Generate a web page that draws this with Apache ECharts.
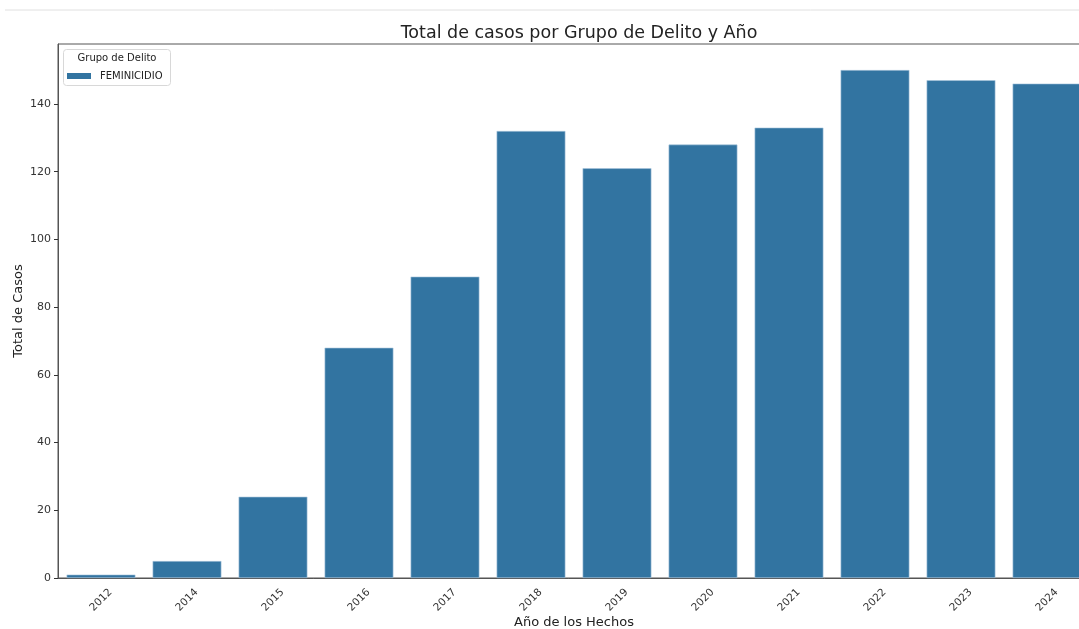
<!DOCTYPE html>
<html><head><meta charset="utf-8">
<script src="https://cdn.jsdelivr.net/npm/echarts@6/dist/echarts.min.js"></script>
<style>html,body{margin:0;padding:0;background:#fff;overflow:hidden}#c{width:1079px;height:629px}</style>
</head><body><div id="c"></div>
<script>
const categories = ['2012','2014','2015','2016','2017','2018','2019','2020','2021','2022','2023','2024'];
const feminicidio = [1,5,24,68,89,132,121,128,133,150,147,146];
const yTicks = {min:0, max:157.7, interval:20};
const seriesName = 'FEMINICIDIO';
const legendTitle = 'Grupo de Delito';

const chart = echarts.init(document.getElementById('c'), null, {renderer:'canvas'});
const font = 'DejaVu Sans';
chart.setOption({
  animation:false,
  textStyle:{fontFamily:font},
  title:{text:'Total de casos por Grupo de Delito y Año', left:574, top:19, textAlign:'center',
    textStyle:{fontFamily:font, fontSize:17.5, fontWeight:'normal', color:'#222'}},
  grid:{left:58, top:44, width:1032, height:534, outerBoundsMode:'none', containLabel:false,
    show:true, borderColor:'#555', borderWidth:1, backgroundColor:'transparent'},
  legend:{left:62, top:66, itemWidth:24, itemHeight:6, icon:'rect', data:[seriesName], z:10,
    itemStyle:{borderWidth:0},
    textStyle:{fontFamily:font, fontSize:10, color:'#222', padding:[0,0,0,4]}},
  graphic:[
    {type:'line', shape:{x1:5,y1:10,x2:1079,y2:10}, style:{stroke:'#e0e0e0', lineWidth:1}},
    {type:'rect', shape:{x:63.5,y:49.5,width:107,height:36,r:3}, style:{fill:'#fff', stroke:'#d8d8d8', lineWidth:1}, z:1},
    {type:'text', x:117, y:53, style:{text:legendTitle, textAlign:'center', font:'10px DejaVu Sans', fill:'#222'}, z:2}
  ],
  xAxis:{type:'category', data:categories, name:'Año de los Hechos', nameLocation:'middle', nameGap:38,
    nameMoveOverlap:false,
    nameTextStyle:{fontFamily:font, fontSize:13, color:'#222'},
    axisLine:{lineStyle:{color:'#555'}}, axisTick:{alignWithLabel:true, length:4, lineStyle:{color:'#333'}},
    axisLabel:{rotate:45, fontSize:10.5, color:'#333', margin:22, align:'center', verticalAlign:'middle'}},
  yAxis:{type:'value', min:yTicks.min, max:yTicks.max, interval:yTicks.interval, name:'Total de Casos',
    nameLocation:'middle', nameGap:33, nameMoveOverlap:false, nameTextStyle:{fontFamily:font, fontSize:13, color:'#222'},
    axisLine:{show:true, lineStyle:{color:'#555'}}, axisTick:{show:true, length:4, lineStyle:{color:'#333'}},
    splitLine:{show:false},
    axisLabel:{fontSize:11, color:'#333', margin:7, showMaxLabel:false}},
  series:[{name:seriesName, type:'bar', data:feminicidio, barCategoryGap:'20%', z:3,
    itemStyle:{color:'#3274a1', borderColor:'#a9c6dd', borderWidth:0.6}}]
});
</script></body></html>
